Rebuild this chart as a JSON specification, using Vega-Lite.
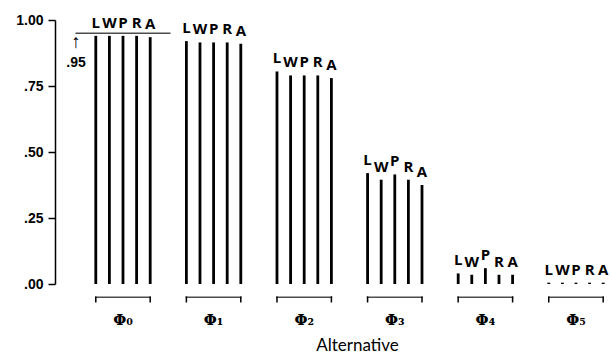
{
  "$schema": "https://vega.github.io/schema/vega-lite/v6.json",
  "width": 556,
  "height": 264,
  "autosize": {"type": "none"},
  "padding": {"left": 55, "top": 20, "right": 1, "bottom": 77},
  "background": "white",
  "config": {
    "view": {"stroke": null},
    "font": "Open Sans",
    "axisY": {"grid": false, "domainColor": "black", "domainWidth": 1.5, "tickColor": "black", "tickWidth": 1.5, "tickSize": 7, "labelFont": "Liberation Sans", "labelFontWeight": "bold", "labelFontSize": 14, "labelColor": "black", "labelPadding": 5, "title": null},
    "axisX": {"grid": false, "domain": false, "ticks": false, "labelFont": "DejaVu Serif", "labelFontWeight": "bold", "labelFontSize": 15, "labelColor": "black", "labelPadding": 28, "labelAngle": 0, "titleFont": "Lato", "titleFontSize": 17, "titleFontWeight": "normal", "titleColor": "black", "titlePadding": 10}
  },
  "data": {
    "values": [
      {"group": "Φ₀", "letter": "L", "value": 0.94},
      {"group": "Φ₀", "letter": "W", "value": 0.94},
      {"group": "Φ₀", "letter": "P", "value": 0.94},
      {"group": "Φ₀", "letter": "R", "value": 0.94},
      {"group": "Φ₀", "letter": "A", "value": 0.935},
      {"group": "Φ₁", "letter": "L", "value": 0.92},
      {"group": "Φ₁", "letter": "W", "value": 0.915},
      {"group": "Φ₁", "letter": "P", "value": 0.915},
      {"group": "Φ₁", "letter": "R", "value": 0.915},
      {"group": "Φ₁", "letter": "A", "value": 0.91},
      {"group": "Φ₂", "letter": "L", "value": 0.805},
      {"group": "Φ₂", "letter": "W", "value": 0.79},
      {"group": "Φ₂", "letter": "P", "value": 0.79},
      {"group": "Φ₂", "letter": "R", "value": 0.79},
      {"group": "Φ₂", "letter": "A", "value": 0.78},
      {"group": "Φ₃", "letter": "L", "value": 0.42},
      {"group": "Φ₃", "letter": "W", "value": 0.395},
      {"group": "Φ₃", "letter": "P", "value": 0.415},
      {"group": "Φ₃", "letter": "R", "value": 0.395},
      {"group": "Φ₃", "letter": "A", "value": 0.375},
      {"group": "Φ₄", "letter": "L", "value": 0.04},
      {"group": "Φ₄", "letter": "W", "value": 0.035},
      {"group": "Φ₄", "letter": "P", "value": 0.06},
      {"group": "Φ₄", "letter": "R", "value": 0.035},
      {"group": "Φ₄", "letter": "A", "value": 0.035},
      {"group": "Φ₅", "letter": "L", "value": 0.005},
      {"group": "Φ₅", "letter": "W", "value": 0.005},
      {"group": "Φ₅", "letter": "P", "value": 0.005},
      {"group": "Φ₅", "letter": "R", "value": 0.005},
      {"group": "Φ₅", "letter": "A", "value": 0.005}
    ]
  },
  "encoding": {
    "x": {
      "field": "group", "type": "nominal",
      "sort": ["Φ₀", "Φ₁", "Φ₂", "Φ₃", "Φ₄", "Φ₅"],
      "scale": {"paddingInner": 0.227, "paddingOuter": 0.182, "align": 1},
      "axis": {"title": "Alternative", "titleX": 302}
    }
  },
  "layer": [
    {
      "mark": {"type": "rule", "strokeWidth": 2.8, "color": "black"},
      "encoding": {
        "xOffset": {"field": "letter", "type": "nominal", "sort": ["L", "W", "P", "R", "A"], "scale": {"paddingInner": 0, "paddingOuter": 0.074}},
        "y": {"field": "value", "type": "quantitative", "scale": {"domain": [0, 1], "nice": false},
              "axis": {"values": [0, 0.25, 0.5, 0.75, 1], "labelExpr": "datum.value >= 1 ? '1.00' : replace(format(datum.value, '.2f'), '0.', '.')"}},
        "y2": {"datum": 0}
      }
    },
    {
      "mark": {"type": "text", "font": "Open Sans", "fontWeight": "bold", "fontSize": 15, "baseline": "alphabetic", "dy": -8, "color": "black"},
      "encoding": {
        "xOffset": {"field": "letter", "type": "nominal", "sort": ["L", "W", "P", "R", "A"], "scale": {"paddingInner": 0, "paddingOuter": 0.074}},
        "y": {"field": "value", "type": "quantitative", "scale": {"domain": [0, 1], "nice": false}},
        "text": {"field": "letter"}
      }
    },
    {
      "transform": [{"filter": "datum.letter === 'L'"}],
      "mark": {"type": "tick", "orient": "horizontal", "size": 56, "thickness": 1.5, "color": "black"},
      "encoding": {
        "y": {"datum": -0.05, "type": "quantitative", "scale": {"domain": [0, 1], "nice": false}}
      }
    },
    {
      "transform": [{"filter": "datum.letter === 'L' || datum.letter === 'A'"}],
      "mark": {"type": "rule", "strokeWidth": 1.5, "color": "black"},
      "encoding": {
        "xOffset": {"field": "letter", "type": "nominal", "sort": ["L", "W", "P", "R", "A"], "scale": {"paddingInner": 0, "paddingOuter": 0.074}},
        "y": {"datum": -0.047, "type": "quantitative", "scale": {"domain": [0, 1], "nice": false}},
        "y2": {"datum": -0.07}
      }
    },
    {
      "transform": [{"filter": "datum.group === 'Φ₀' && datum.letter === 'L'"}],
      "mark": {"type": "tick", "orient": "horizontal", "size": 95, "thickness": 1.5, "color": "black"},
      "encoding": {
        "y": {"datum": 0.95, "type": "quantitative", "scale": {"domain": [0, 1], "nice": false}}
      }
    },
    {
      "transform": [{"filter": "datum.group === 'Φ₀' && datum.letter === 'L'"}],
      "mark": {"type": "text", "text": "↑", "font": "Liberation Sans", "fontSize": 19, "baseline": "top", "dx": -47, "dy": 0, "color": "black"},
      "encoding": {
        "y": {"datum": 0.95, "type": "quantitative", "scale": {"domain": [0, 1], "nice": false}}
      }
    },
    {
      "transform": [{"filter": "datum.group === 'Φ₀' && datum.letter === 'L'"}],
      "mark": {"type": "text", "text": ".95", "font": "Liberation Sans", "fontWeight": "bold", "fontSize": 14, "baseline": "top", "dx": -47, "dy": 23, "color": "black"},
      "encoding": {
        "y": {"datum": 0.95, "type": "quantitative", "scale": {"domain": [0, 1], "nice": false}}
      }
    }
  ]
}
